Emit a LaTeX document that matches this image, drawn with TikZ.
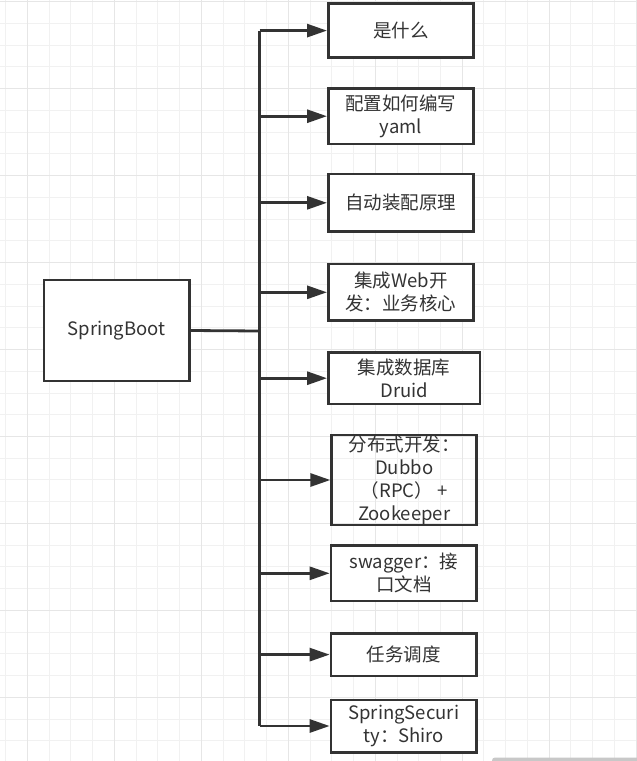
\documentclass[tikz,border=0pt]{standalone}
\usepackage{fontspec}
\setmainfont{Noto Sans CJK SC}
\usetikzlibrary{arrows.meta}
\definecolor{ink}{HTML}{333333}
\definecolor{gminor}{HTML}{F1F1F1}
\definecolor{gmajor}{HTML}{E6E6E6}
\definecolor{sbar}{HTML}{C8C8C8}
\tikzset{
  box/.style={draw=ink, line width=2.6pt, fill=white, text=ink, align=center,
    inner sep=0pt, font=\fontsize{18.5}{23}\selectfont},
  arr/.style={draw=ink, line width=2.8pt, -{Triangle[length=20pt,width=13pt]}},
  trunk/.style={draw=ink, line width=2.8pt},
  gridminor/.style={draw=gminor, line width=1pt},
  gridmajor/.style={draw=gmajor, line width=1.2pt}
}
\begin{document}
\begin{tikzpicture}[x=1pt,y=-1pt]
\useasboundingbox (0,0) rectangle (637,761);
\fill[white] (0,0) rectangle (637,761);
% grid
\foreach \k in {0,...,29} {\draw[gridminor] ({5.7+\k*21.74},0) -- ++(0,761);}
\foreach \k in {0,...,34} {\draw[gridminor] (0,{1.7+\k*21.74}) -- ++(637,0);}
\foreach \k in {1,5,...,29} {\draw[gridmajor] ({5.7+\k*21.74},0) -- ++(0,761);}
\foreach \k in {0,4,...,32} {\draw[gridmajor] (0,{1.7+\k*21.74}) -- ++(637,0);}
% scroll bar
\fill[sbar, rounded corners=3pt] (492,757.5) rectangle (645,766);
% nodes
\node[box, minimum width=145.3pt, minimum height=101pt] (sb) at (116.7,330.5) {SpringBoot};
\node[box, minimum width=145pt, minimum height=54pt] (b1) at (400.8,30.6) {是什么};
\node[box, minimum width=145pt, minimum height=55.7pt] (b2) at (400.8,116.2) {配置如何编写\\yaml};
\node[box, minimum width=145pt, minimum height=57.7pt] (b3) at (400.8,202.8) {自动装配原理};
\node[box, minimum width=145pt, minimum height=56.7pt] (b4) at (400.8,292.3) {集成Web开\\发：业务核心};
\node[box, minimum width=151.7pt, minimum height=51.6pt] (b5) at (404.2,378.2) {集成数据库\\Druid};
\node[box, minimum width=145pt, minimum height=90pt, fill=none] (b6) at (404.2,480) {分布式开发：\\Dubbo\\（RPC） +\\Zookeeper};
\node[box, minimum width=145.7pt, minimum height=55.3pt] (b7) at (403.8,573.3) {swagger：接\\口文档};
\node[box, minimum width=145.7pt, minimum height=42.7pt] (b8) at (403.8,654.6) {任务调度};
\node[box, minimum width=145.7pt, minimum height=52.4pt] (b9) at (403.8,726) {SpringSecuri\\ty：Shiro};
% connectors
\coordinate (j) at (259.5,331);
\coordinate (jt) at (j |- b1.west);
\coordinate (jb) at (j |- b9.west);
\draw[trunk] (sb.east) -- (j);
\draw[trunk] (jt) -- (jb);
\foreach \b in {b1,b2,b3,b4,b5,b6,b7,b8,b9} {
  \draw[arr] (j |- \b.west) -- (\b.west);
}
\end{tikzpicture}
\end{document}
